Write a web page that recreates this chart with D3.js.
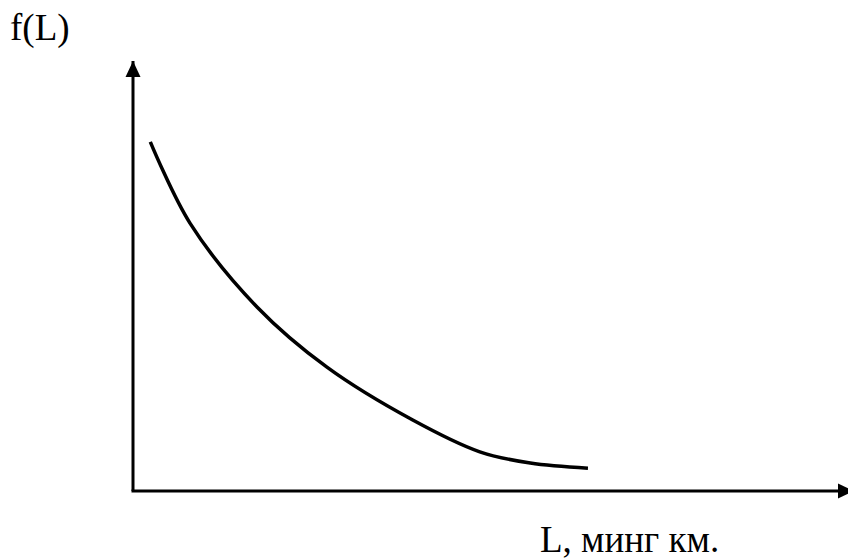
<!DOCTYPE html>
<html>
<head>
<meta charset="utf-8">
<script src="https://cdn.jsdelivr.net/npm/d3@7"></script>
<style>
body { margin: 0; background: #fff; }
text { font-family: "Liberation Serif", "Times New Roman", serif; fill: #000; }
</style>
</head>
<body>
<script>
var w = 848;
var h = 559;

// curve (arbitrary units, 0..100 on both axes)
var lValues = [2.4, 7.9, 17.2, 26.9, 38.8, 48.1, 55.1, 63.1];
var fValues = [81.2, 62.3, 42.8, 28.8, 16.5, 9.1, 6.5, 5.3];
var yLabel = "f(L)";
var xLabel = "L, минг км.";

var x = d3.scaleLinear().domain([0, 100]).range([133, 854]);
var y = d3.scaleLinear().domain([0, 100]).range([491, 61]);

var svg = d3.select("body")
    .append("svg")
    .attr("width", w)
    .attr("height", h);

svg.append("defs")
    .append("marker")
    .attr("id", "arrow")
    .attr("viewBox", "0 0 16 16")
    .attr("refX", 16)
    .attr("refY", 8)
    .attr("markerUnits", "userSpaceOnUse")
    .attr("markerWidth", 16)
    .attr("markerHeight", 16)
    .attr("orient", "auto")
    .append("path")
    .attr("d", "M0,0.5 L16,8 L0,15.5 Z")
    .attr("fill", "#000");

// axes
svg.append("line")
    .attr("x1", x(0)).attr("y1", y(0))
    .attr("x2", x(0)).attr("y2", y(100))
    .attr("stroke", "#000")
    .attr("stroke-width", 3)
    .attr("marker-end", "url(#arrow)");

svg.append("line")
    .attr("x1", x(0) - 1.5).attr("y1", y(0))
    .attr("x2", x(100)).attr("y2", y(0))
    .attr("stroke", "#000")
    .attr("stroke-width", 3)
    .attr("marker-end", "url(#arrow)");

var points = lValues.map(function (d, i) {
    return [d, fValues[i]];
});

var line = d3.line()
    .x(function (d) { return x(d[0]); })
    .y(function (d) { return y(d[1]); })
    .curve(d3.curveCatmullRom);

svg.append("path")
    .datum(points)
    .attr("d", line)
    .attr("fill", "none")
    .attr("stroke", "#000")
    .attr("stroke-width", 3.5);

svg.append("text")
    .attr("x", 10)
    .attr("y", 40)
    .attr("font-size", 37)
    .text(yLabel);

svg.append("text")
    .attr("x", 540)
    .attr("y", 552)
    .attr("font-size", 37)
    .text(xLabel);
</script>
</body>
</html>
